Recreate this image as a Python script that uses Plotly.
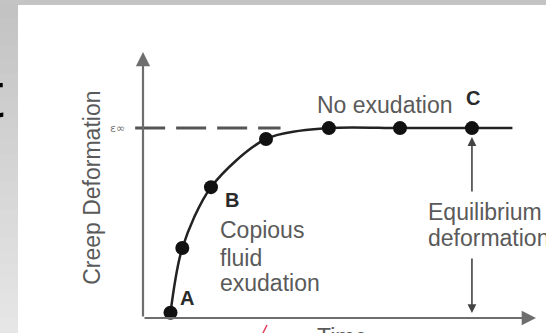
import plotly.graph_objects as go

# Creep test: deformation vs. time, with fluid exudation stages
time = [7.0, 10.0, 17.3, 31.3, 47.3, 65.4, 83.7]
deformation = [2.0, 26.3, 49.2, 67.3, 71.4, 71.4, 71.4]
equilibrium = 71.4
curve_end_time = 94.0
axis_max = 100.0
point_labels = {0: "A", 2: "B", 6: "C"}

W, H = 546, 333
# pixel placement of the origin and scale of each axis
X0_PX, X_PER = 143.0, 3.93
Y0_PX, Y_PER = 318.0, 2.66
x_range = [(0 - X0_PX) / X_PER, (W - X0_PX) / X_PER]
y_range = [(Y0_PX - H) / Y_PER, Y0_PX / Y_PER]

fig = go.Figure()

# equilibrium level (dashed)
fig.add_trace(go.Scatter(
    x=[-2.0, 35.0], y=[equilibrium, equilibrium], mode="lines",
    line=dict(color="#555555", width=3, dash="30px,11px"),
    hoverinfo="skip", showlegend=False))

# creep curve through the measured points, running on to the end of the plateau
fig.add_trace(go.Scatter(
    x=time + [curve_end_time], y=deformation + [deformation[-1]], mode="lines",
    line=dict(color="#222222", width=2.5, shape="spline", smoothing=0.85),
    hoverinfo="skip", showlegend=False))
fig.add_trace(go.Scatter(
    x=time, y=deformation, mode="markers",
    marker=dict(color="#111111", size=14),
    hoverinfo="skip", showlegend=False))

ann = []
label_font = dict(family="Liberation Sans, Arial, sans-serif", size=23, color="#5a5a5a")

# axes drawn as arrows
ann.append(dict(x=0, y=axis_max, ax=0, ay=0, xref="x", yref="y", axref="x", ayref="y",
                text="", showarrow=True, arrowhead=2, arrowsize=1.3, arrowwidth=2.2,
                arrowcolor="#6e6e6e"))
ann.append(dict(x=axis_max, y=0, ax=0, ay=0, xref="x", yref="y", axref="x", ayref="y",
                text="", showarrow=True, arrowhead=2, arrowsize=1.3, arrowwidth=2.2,
                arrowcolor="#6e6e6e"))

# equilibrium deformation double arrow under point C
tc = time[-1]
ann.append(dict(x=tc, y=equilibrium - 3.4, ax=tc, ay=47.0, xref="x", yref="y",
                axref="x", ayref="y", text="", showarrow=True, arrowhead=2,
                arrowsize=1.1, arrowwidth=1.6, arrowcolor="#444444"))
ann.append(dict(x=tc, y=1.9, ax=tc, ay=22.9, xref="x", yref="y",
                axref="x", ayref="y", text="", showarrow=True, arrowhead=2,
                arrowsize=1.1, arrowwidth=1.6, arrowcolor="#444444"))

# point letters
shifts = {"A": (16, 15), "B": (21, -13), "C": (1, 30)}
for i, lab in point_labels.items():
    dx, dy = shifts[lab]
    ann.append(dict(x=time[i], y=deformation[i], xref="x", yref="y", text="<b>%s</b>" % lab,
                    showarrow=False, xshift=dx, yshift=dy,
                    font=dict(family="Liberation Sans, Arial, sans-serif", size=20,
                              color="#2a2a2a")))

# stage descriptions
ann.append(dict(x=61.6, y=80.1, xref="x", yref="y", text="No exudation",
                showarrow=False, font=label_font))
for txt, yy in [("Copious", 33.1), ("fluid", 22.6), ("exudation", 13.2)]:
    ann.append(dict(x=19.0, y=yy, xref="x", yref="y", text=txt, xanchor="left",
                    showarrow=False, font=label_font))
for txt, yy in [("Equilibrium", 39.8), ("deformation", 30.1)]:
    ann.append(dict(x=72.0, y=yy, xref="x", yref="y", text=txt, xanchor="left",
                    showarrow=False, font=label_font))

# axis titles
ann.append(dict(x=-13.0, y=48.9, xref="x", yref="y", text="Creep Deformation",
                textangle=-90, showarrow=False, font=label_font))
ann.append(dict(x=342 / W, y=1 - 322 / H, xref="paper", yref="paper", text="Time",
                yanchor="top", showarrow=False, font=label_font))
ann.append(dict(x=-4.0, y=equilibrium, xref="x", yref="y", text="ε∞", xanchor="right",
                showarrow=False,
                font=dict(family="DejaVu Sans, sans-serif", size=11, color="#777777")))

# large slide letter at the left edge
ann.append(dict(x=-16 / W, y=1 - 133 / H, xref="paper", yref="paper", text="t",
                xanchor="left", yanchor="bottom", showarrow=False,
                font=dict(family="Liberation Sans, Arial, sans-serif", size=64,
                          color="#000000")))

shapes = []
# white panel on a grey slide
shapes.append(dict(type="rect", xref="paper", yref="paper", x0=18 / W, x1=1,
                   y0=0, y1=1 - 5 / H, fillcolor="#ffffff", line=dict(width=0),
                   layer="below"))
# left strip gradient, darker at the top
n = 24
c_top, c_bot = 0xC3, 0xE6
for k in range(n):
    c = round(c_top + (c_bot - c_top) * k / (n - 1))
    y1 = 1 - 5 / H - k * (1 - 5 / H) / n
    y0 = 1 - 5 / H - (k + 1) * (1 - 5 / H) / n
    shapes.append(dict(type="rect", xref="paper", yref="paper", x0=0, x1=18 / W,
                       y0=y0 - 0.001, y1=y1 + 0.001,
                       fillcolor="rgb(%d,%d,%d)" % (c, c, c), line=dict(width=0),
                       layer="below"))
# small red tick near the time axis label
shapes.append(dict(type="line", xref="paper", yref="paper",
                   x0=263 / W, y0=0, x1=267 / W, y1=1 - 325 / H,
                   line=dict(color="#e0405a", width=1.5)))

fig.update_layout(
    width=W, height=H, margin=dict(l=0, r=0, t=0, b=0),
    paper_bgcolor="#c4c4c4", plot_bgcolor="rgba(0,0,0,0)",
    xaxis=dict(range=x_range, visible=False, fixedrange=True),
    yaxis=dict(range=y_range, visible=False, fixedrange=True),
    annotations=ann, shapes=shapes, showlegend=False,
)

fig.write_html("out.html")
